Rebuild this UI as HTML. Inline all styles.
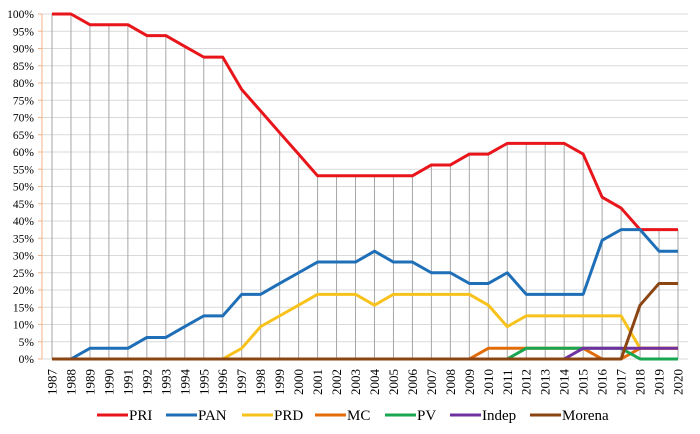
<!DOCTYPE html>
<html><head><meta charset="utf-8"><style>
body{margin:0;background:#fff;}
svg{display:block;font-family:"Liberation Serif",serif;}
</style></head><body>
<svg id="chart" width="700" height="434"></svg>
<script>
const years=[];for(let y=1987;y<=2020;y++)years.push(y);
const PRI=[100,100,96.9,96.9,96.9,93.75,93.75,90.6,87.5,87.5,78.1,71.9,65.6,59.4,53.1,53.1,53.1,53.1,53.1,53.1,56.25,56.25,59.4,59.4,62.5,62.5,62.5,62.5,59.4,46.9,43.75,37.5,37.5,37.5];
const PAN=[0,0,3.1,3.1,3.1,6.25,6.25,9.4,12.5,12.5,18.75,18.75,21.9,25,28.1,28.1,28.1,31.25,28.1,28.1,25,25,21.9,21.9,25,18.75,18.75,18.75,18.75,34.4,37.5,37.5,31.25,31.25];
const PRD=[0,0,0,0,0,0,0,0,0,0,3.1,9.4,12.5,15.6,18.75,18.75,18.75,15.6,18.75,18.75,18.75,18.75,18.75,15.6,9.4,12.5,12.5,12.5,12.5,12.5,12.5,3.1,3.1,3.1];
const MC=[0,0,0,0,0,0,0,0,0,0,0,0,0,0,0,0,0,0,0,0,0,0,0,3.1,3.1,3.1,3.1,3.1,3.1,0,0,3.1,3.1,3.1];
const PV=[0,0,0,0,0,0,0,0,0,0,0,0,0,0,0,0,0,0,0,0,0,0,0,0,0,3.1,3.1,3.1,3.1,3.1,3.1,0,0,0];
const Indep=[0,0,0,0,0,0,0,0,0,0,0,0,0,0,0,0,0,0,0,0,0,0,0,0,0,0,0,0,3.1,3.1,3.1,3.1,3.1,3.1];
const Morena=[0,0,0,0,0,0,0,0,0,0,0,0,0,0,0,0,0,0,0,0,0,0,0,0,0,0,0,0,0,0,0,15.6,21.9,21.9];
const yTicks=[0,5,10,15,20,25,30,35,40,45,50,55,60,65,70,75,80,85,90,95,100];
const seriesNames=["PRI","PAN","PRD","MC","PV","Indep","Morena"];
const seriesData=[PRI,PAN,PRD,MC,PV,Indep,Morena];
const colors=["#e8151b","#1f6fb8","#f8c21c","#e36c0a","#1aa551","#7030a0","#8b4513"];
const svg=document.getElementById('chart');
const NS="http://www.w3.org/2000/svg";
const x0=52,x1=678,yB=359,yT=14;
const X=i=>x0+(x1-x0)*i/(years.length-1);
const Y=v=>yB-(yB-yT)*v/100;
function mk(t,a,p){const e=document.createElementNS(NS,t);for(const k in a)e.setAttribute(k,a[k]);(p||svg).appendChild(e);return e;}
yTicks.forEach(v=>{
 const g=mk('line',{x1:42,x2:688,y1:Y(v),y2:Y(v),stroke:'#d9d9d9','stroke-width':1});
 
 
 mk('line',{x1:38,x2:42,y1:Y(v),y2:Y(v),stroke:'#f4b183'});
 const t=mk('text',{x:34,y:Y(v)+4,'text-anchor':'end','font-size':11.5,fill:'#000'});
 t.textContent=v+'%';
 
 
});
mk('line',{x1:42,x2:42,y1:yT,y2:yB,stroke:'#f4b183','stroke-width':1});
years.forEach((yr,i)=>{
 const d=mk('line',{x1:X(i),x2:X(i),y1:Y(PRI[i]),y2:yB,stroke:'#a6a6a6','stroke-width':1});
 
 
 const t=mk('text',{transform:`translate(${X(i)+4.5},395) rotate(-90)`,'font-size':13,fill:'#000'});
 t.textContent=yr;
 
 
});
mk('line',{x1:42,x2:688,y1:yB,y2:yB,stroke:'#d9d9d9'});
seriesData.forEach((s,k)=>{
 const pts=s.map((v,i)=>X(i)+','+Y(v)).join(' ');
 const p=mk('polyline',{points:pts,fill:'none',stroke:colors[k],'stroke-width':3,'stroke-linejoin':'round'});
 
 
});
const legX=[97,166,242,315,385,450,530];
seriesNames.forEach((n,k)=>{
 const g=mk('g',{});
 
 
 mk('line',{x1:legX[k],x2:legX[k]+31,y1:415,y2:415,stroke:colors[k],'stroke-width':3},g);
 const t=mk('text',{x:legX[k]+32,y:420,'font-size':15,fill:'#000'},g);
 t.textContent=n;
});
</script>
</body></html>
